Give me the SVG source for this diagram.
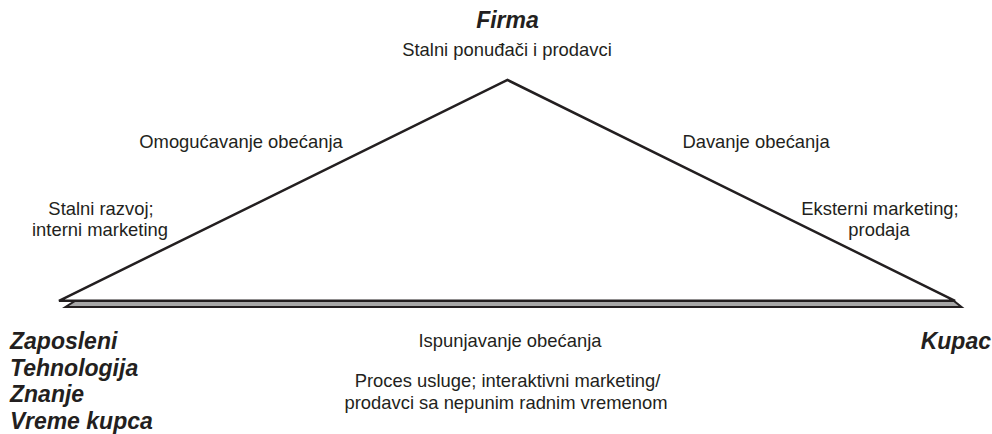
<svg xmlns="http://www.w3.org/2000/svg" width="992" height="434" viewBox="0 0 992 434">
  <style>
    text { font-family: "Liberation Sans", Arial, sans-serif; fill: #231f20; }
    .lbl { font-size: 18.4px; }
    .head { font-size: 23px; font-weight: bold; font-style: italic; }
    .edge { fill: none; stroke: #231f20; stroke-width: 2.5; stroke-linejoin: miter; }
    .slab { fill: #a7a7a7; stroke: #231f20; stroke-width: 2; }
  </style>
  <rect width="992" height="434" fill="#ffffff"/>
  <g id="connectors">
    <polygon class="slab" points="75,301 954,301 961.5,307 65.5,307"/>
    <polygon class="edge" points="59,300.8 507.5,80 955,300.8"/>
  </g>
  <g id="firma">
    <text class="head" x="507.5" y="28" text-anchor="middle">Firma</text>
    <text class="lbl" x="507" y="56" text-anchor="middle">Stalni ponuđači i prodavci</text>
  </g>
  <g id="zaposleni">
    <text class="head" x="10" y="349">Zaposleni</text>
    <text class="head" x="10" y="376">Tehnologija</text>
    <text class="head" x="10" y="402">Znanje</text>
    <text class="head" x="10" y="429">Vreme kupca</text>
  </g>
  <g id="kupac">
    <text class="head" x="991" y="349" text-anchor="end">Kupac</text>
  </g>
  <g id="edge-labels">
    <text class="lbl" x="241" y="148" text-anchor="middle">Omogućavanje obećanja</text>
    <text class="lbl" x="101" y="215" text-anchor="middle">Stalni razvoj;</text>
    <text class="lbl" x="100" y="236" text-anchor="middle">interni marketing</text>
    <text class="lbl" x="756" y="148" text-anchor="middle">Davanje obećanja</text>
    <text class="lbl" x="880" y="215" text-anchor="middle">Eksterni marketing;</text>
    <text class="lbl" x="879" y="236" text-anchor="middle">prodaja</text>
    <text class="lbl" x="510" y="347" text-anchor="middle">Ispunjavanje obećanja</text>
    <text class="lbl" x="507.5" y="387" text-anchor="middle">Proces usluge; interaktivni marketing/</text>
    <text class="lbl" x="506" y="409" text-anchor="middle">prodavci sa nepunim radnim vremenom</text>
  </g>
</svg>
